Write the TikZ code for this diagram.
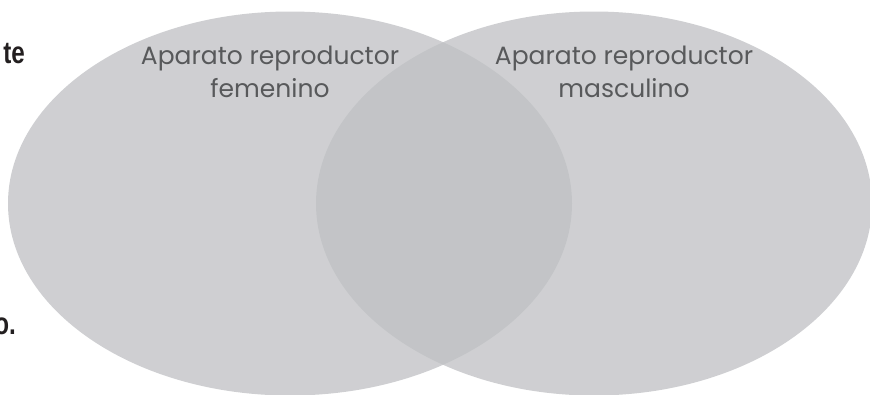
\documentclass[tikz,border=0pt]{standalone}
\usepackage{fontspec}
\setmainfont{Poppins}
\newfontfamily\condfont[FakeStretch=0.78]{Liberation Sans}
\usetikzlibrary{positioning}
\definecolor{vennfill}{RGB}{192,193,196}
\definecolor{lbltext}{RGB}{88,89,91}
\definecolor{inktext}{RGB}{35,31,32}

\begin{document}
\begin{tikzpicture}[
  x=1pt, y=-1pt,
  set/.style={fill=vennfill, fill opacity=0.77, draw=none},
  lbl/.style={font=\fontsize{25}{33}\selectfont, text=lbltext, align=center, inner sep=0pt},
  cut/.style={font=\condfont\bfseries\fontsize{31}{33}\selectfont, text=inktext, inner sep=0pt},
]
\useasboundingbox (0,0) rectangle (870,394);
\clip (0,0) rectangle (870,394);
% the two sets
\fill[set] (290,203.5) ellipse [x radius=282, y radius=192];
\fill[set] (594,203.5) ellipse [x radius=278, y radius=192];
% set labels
\node[lbl, anchor=north] (fem) at (270,46) {Aparato reproductor\\femenino};
\node[lbl, anchor=north] (mas) at (624,46) {Aparato reproductor\\masculino};
% text cut at the left margin
\node[cut, anchor=base east] (cutte) at (25,63) {te};
\node[cut, anchor=base east] (cuto) at (16,334) {o.};
\end{tikzpicture}
\end{document}
